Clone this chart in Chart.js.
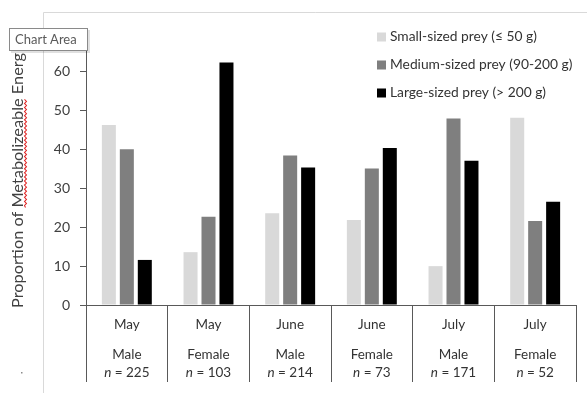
<!DOCTYPE html>
<html>
<head>
<meta charset="utf-8">
<script src="https://cdn.jsdelivr.net/npm/chart.js@4.4.1/dist/chart.umd.min.js"></script>
<style>
  html, body { margin: 0; padding: 0; background: #ffffff; }
  #wrap { width: 587px; height: 393px; position: relative; }
</style>
</head>
<body>
<div id="wrap"><canvas id="chart" width="587" height="393"></canvas></div>
<script>
// Diet composition by month and sex
const months = ['May', 'May', 'June', 'June', 'July', 'July'];
const sexes = ['Male', 'Female', 'Male', 'Female', 'Male', 'Female'];
const sampleSizes = [225, 103, 214, 73, 171, 52];

const seriesNames = ['Small-sized prey (\u2264 50 g)', 'Medium-sized prey (90-200 g)', 'Large-sized prey (> 200 g)'];
const smallPrey = [46.3, 13.6, 23.6, 21.9, 10.0, 48.2];
const mediumPrey = [40.1, 22.7, 38.5, 35.1, 48.0, 21.6];
const largePrey = [11.6, 62.4, 35.4, 40.4, 37.1, 26.6];

const yTicks = [0, 10, 20, 30, 40, 50, 60, 70];
const yTitle = 'Proportion of Metabolizeable Energ';

const FONT = 'Lato, "Open Sans", sans-serif';
const colors = ['#d9d9d9', '#7f7f7f', '#000000'];
const axisColor = '#595959';
const textColor = '#333333';

// Outer chart frame, drawn before everything else
const framePlugin = {
  id: 'frame',
  beforeDraw(chart) {
    const ctx = chart.ctx;
    ctx.save();
    ctx.fillStyle = '#ffffff';
    ctx.fillRect(0, 0, chart.width, chart.height);
    ctx.strokeStyle = '#d9d9d9';
    ctx.lineWidth = 1;
    ctx.beginPath();
    ctx.moveTo(43.5, chart.height + 2);
    ctx.lineTo(43.5, 12.5);
    ctx.lineTo(chart.width + 2, 12.5);
    ctx.stroke();
    ctx.restore();
  }
};

// Two-level category labels under the x axis
const categoryLabels = {
  id: 'categoryLabels',
  afterDraw(chart) {
    const ctx = chart.ctx;
    const x = chart.scales.x;
    const base = chart.chartArea.bottom;
    ctx.save();
    ctx.fillStyle = textColor;
    ctx.textBaseline = 'middle';
    months.forEach((m, i) => {
      const cx = x.getPixelForValue(i);
      ctx.textAlign = 'center';
      ctx.font = '13.5px ' + FONT;
      ctx.fillText(m, cx, base + 20);
      ctx.fillText(sexes[i], cx, base + 50);
      // "n = 225" with italic n
      const rest = ' = ' + sampleSizes[i];
      ctx.font = 'italic 13.5px ' + FONT;
      const wn = ctx.measureText('n').width;
      ctx.font = '13.5px ' + FONT;
      const wr = ctx.measureText(rest).width;
      const start = cx - (wn + wr) / 2;
      ctx.textAlign = 'left';
      ctx.font = 'italic 13.5px ' + FONT;
      ctx.fillText('n', start, base + 68);
      ctx.font = '13.5px ' + FONT;
      ctx.fillText(rest, start + wn, base + 68);
    });
    ctx.restore();
  }
};

// Legend list in the upper right corner
const legendList = {
  id: 'legendList',
  afterDraw(chart) {
    const ctx = chart.ctx;
    ctx.save();
    ctx.font = '13.8px ' + FONT;
    ctx.textBaseline = 'middle';
    ctx.textAlign = 'left';
    chart.data.datasets.forEach((ds, i) => {
      const cy = 37 + i * 28;
      ctx.fillStyle = ds.backgroundColor;
      ctx.fillRect(377, cy - 4.5, 9, 9);
      ctx.fillStyle = textColor;
      ctx.fillText(ds.label, 390, cy);
    });
    ctx.restore();
  }
};

// Rotated y-axis title with spell-check underline, then the hover box
const overlay = {
  id: 'overlay',
  afterDraw(chart) {
    const ctx = chart.ctx;
    ctx.save();
    ctx.translate(18, 308);
    ctx.rotate(-Math.PI / 2);
    ctx.font = '16px ' + FONT;
    // the title runs from just under the 0 tick up to the hover box
    const span = 308 - 53;
    const full = ctx.measureText(yTitle).width;
    ctx.scale(span / full, 1);
    ctx.fillStyle = '#404040';
    ctx.textAlign = 'left';
    ctx.textBaseline = 'middle';
    ctx.fillText(yTitle, 0, 0);
    const pre = ctx.measureText('Proportion of ').width;
    const word = ctx.measureText('Metabolizeable').width;
    // wavy red underline
    ctx.strokeStyle = '#e02020';
    ctx.lineWidth = 1;
    ctx.beginPath();
    let up = true;
    ctx.moveTo(pre, 7.5);
    for (let t = pre + 2; t <= pre + word; t += 2) {
      ctx.lineTo(t, up ? 6.5 : 8.5);
      up = !up;
    }
    ctx.stroke();
    ctx.restore();

    // small dot at lower left
    ctx.save();
    ctx.fillStyle = '#8c8c8c';
    ctx.fillRect(21, 372, 1.5, 1.5);
    ctx.restore();

    // "Chart Area" hover box
    ctx.save();
    ctx.fillStyle = 'rgba(0,0,0,0.12)';
    ctx.fillRect(11, 30, 79, 23);
    ctx.fillStyle = '#ffffff';
    ctx.fillRect(9, 28, 79, 23);
    ctx.strokeStyle = '#8a8a8a';
    ctx.lineWidth = 1;
    ctx.strokeRect(9.5, 28.5, 78, 22);
    ctx.fillStyle = '#5a5a5a';
    ctx.font = '13px ' + FONT;
    ctx.textBaseline = 'middle';
    ctx.textAlign = 'left';
    ctx.fillText('Chart Area', 15, 40);
    ctx.restore();
  }
};

new Chart(document.getElementById('chart'), {
  type: 'bar',
  data: {
    labels: months.map((m, i) => m + ' ' + sexes[i]),
    datasets: [
      { label: seriesNames[0], data: smallPrey, backgroundColor: colors[0] },
      { label: seriesNames[1], data: mediumPrey, backgroundColor: colors[1] },
      { label: seriesNames[2], data: largePrey, backgroundColor: colors[2] }
    ]
  },
  options: {
    responsive: false,
    animation: false,
    devicePixelRatio: 1,
    datasets: { bar: { categoryPercentage: 0.66, barPercentage: 0.78 } },
    layout: { padding: { top: 33, right: 11, left: 0, bottom: 0 } },
    plugins: { legend: { display: false }, tooltip: { enabled: false }, title: { display: false } },
    scales: {
      x: {
        offset: true,
        ticks: { display: false },
        grid: { offset: true, drawOnChartArea: false, drawTicks: true, tickLength: 77, color: axisColor, lineWidth: 1 },
        border: { display: true, color: axisColor, width: 1 },
        afterFit(scale) { scale.height = 88; }
      },
      y: {
        min: yTicks[0],
        max: yTicks[yTicks.length - 1],
        afterBuildTicks(scale) { scale.ticks = yTicks.map(v => ({ value: v })); },
        ticks: { color: '#404040', font: { family: FONT, size: 14 }, padding: 10 },
        grid: { drawOnChartArea: false, drawTicks: true, tickLength: 6, color: axisColor },
        border: { display: true, color: axisColor, width: 1 },
        afterFit(scale) { scale.width = 86; }
      }
    }
  },
  plugins: [framePlugin, categoryLabels, legendList, overlay]
});
</script>
</body>
</html>
